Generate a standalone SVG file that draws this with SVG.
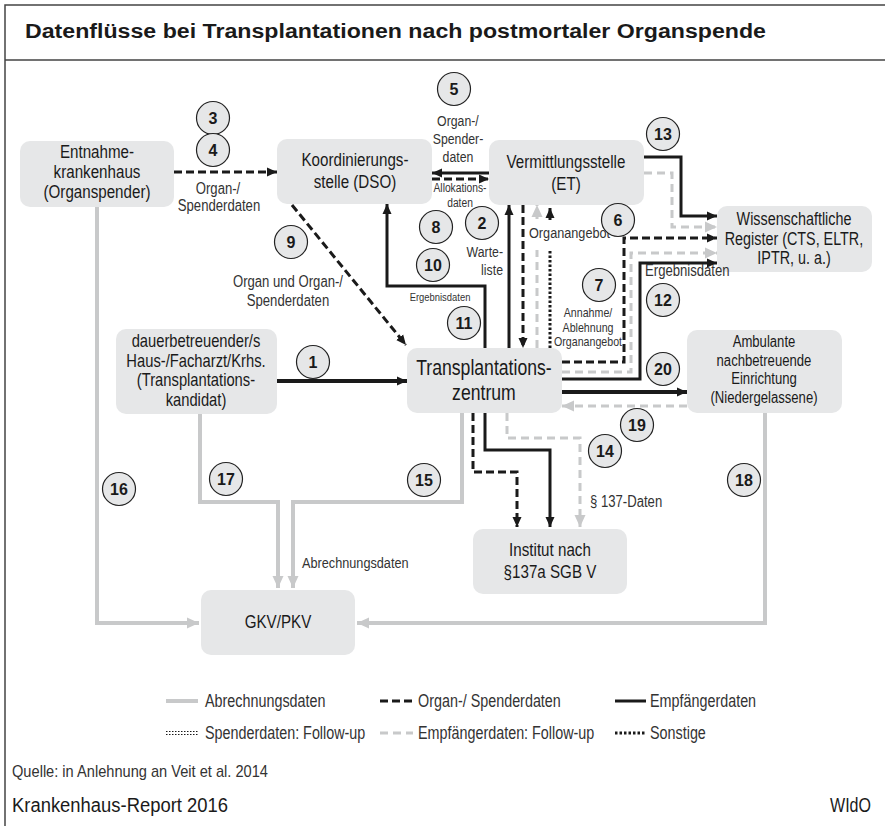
<svg xmlns="http://www.w3.org/2000/svg" width="885" height="826" viewBox="0 0 885 826">
<style>
.bg{fill:#fff}
.node rect{fill:#e6e7e8}
.nt{font-family:"Liberation Sans",sans-serif;font-size:18.5px;fill:#1a1a1a;text-anchor:middle}
.lbl{font-family:"Liberation Sans",sans-serif;font-size:16px;fill:#333}
.mid{text-anchor:middle}
.end{text-anchor:end}
.num circle{fill:#e6e7e8;stroke:#222;stroke-width:1.2}
.num text{font-family:"Liberation Sans",sans-serif;font-weight:bold;font-size:16px;fill:#1a1a1a;text-anchor:middle}
.abr{stroke:#c8c9ca;stroke-width:4;fill:none}
.org{stroke:#1a1a1a;stroke-width:3;stroke-dasharray:8 4;fill:none}
.emp{stroke:#1a1a1a;stroke-width:3;fill:none}
.thick{stroke-width:4}
.empf{stroke:#c8c9ca;stroke-width:3;stroke-dasharray:8 5;fill:none}
.son{stroke:#1a1a1a;stroke-width:3;stroke-dasharray:2.5 2;fill:none}
.spf{stroke:#1a1a1a;stroke-width:1;stroke-dasharray:1.5 1.5;fill:none}
.frame{stroke:#444;stroke-width:1.5;fill:none}
</style>
<defs>
<marker id="ab" markerUnits="userSpaceOnUse" markerWidth="11" markerHeight="10" refX="10" refY="5" orient="auto"><path d="M0,0.5 L10,5 L0,9.5 z" fill="#1a1a1a"/></marker>
<marker id="ag" markerUnits="userSpaceOnUse" markerWidth="13" markerHeight="12" refX="12" refY="6" orient="auto"><path d="M0,0.5 L12,6 L0,11.5 z" fill="#c8c9ca"/></marker>
</defs>
<rect class="bg" x="0" y="0" width="885" height="826"/>
<path class="frame" d="M5,826 V5 H885 M5,60 H885"/>
<text x="25" y="38" font-family="Liberation Sans, sans-serif" font-weight="bold" font-size="20" fill="#1a1a1a" textLength="741" lengthAdjust="spacingAndGlyphs">Datenflüsse bei Transplantationen nach postmortaler Organspende</text>

<g id="connectors">
<path class="org" d="M174,172 H277" marker-end="url(#ab)"/>
<path class="emp" d="M489,173 H432" marker-end="url(#ab)"/>
<path class="org" d="M432,179 H489" marker-end="url(#ab)"/>
<path class="org" d="M292,205 L406,345" marker-end="url(#ab)"/>
<path class="emp" d="M485,348 V286 H387 V204" marker-end="url(#ab)"/>
<path class="emp" d="M509,348 V205" marker-end="url(#ab)"/>
<path class="org" d="M523,205 V348" marker-end="url(#ab)"/>
<path class="empf" d="M537,348 V250"/>
<path class="empf" d="M537,219 V205" stroke-dasharray="none" marker-end="url(#ag)"/>
<path class="son" d="M550,348 V250"/>
<path class="emp" d="M550,220 V208" marker-end="url(#ab)"/>
<path class="org" d="M562,362 H624 V238 H717" marker-end="url(#ab)"/>
<path class="empf" d="M562,372 H631 V253 H717" marker-end="url(#ag)"/>
<path class="emp" d="M562,379 H640 V263 H717" marker-end="url(#ab)"/>
<path class="emp" d="M644,157 H681 V216 H717" marker-end="url(#ab)"/>
<path class="empf" d="M644,173 H672 V227 H717" marker-end="url(#ag)"/>
<path class="emp thick" d="M562,392 H687" marker-end="url(#ab)"/>
<path class="empf" d="M687,406 H562" marker-end="url(#ag)"/>
<path class="emp thick" d="M277,381 H407" marker-end="url(#ab)"/>
<path class="empf" d="M507,413 V438 H580 V527" marker-end="url(#ag)"/>
<path class="org" d="M473,413 V472 H517 V527" marker-end="url(#ab)"/>
<path class="emp" d="M485,413 V450 H550 V527" marker-end="url(#ab)"/>
<path class="abr" d="M462,413 V502 H293 V588" marker-end="url(#ag)"/>
<path class="abr" d="M200,414 V502 H278 V588" marker-end="url(#ag)"/>
<path class="abr" d="M97,207 V623 H199" marker-end="url(#ag)"/>
<path class="abr" d="M765,413 V623 H357" marker-end="url(#ag)"/>
</g>

<g id="n-entnahme" class="node"><rect x="20" y="141" width="154" height="66" rx="10"/>
<g transform="scale(0.82 1)"><text class="nt" x="118.3" y="158">Entnahme-</text><text class="nt" x="118.3" y="178">krankenhaus</text><text class="nt" x="118.3" y="198">(Organspender)</text></g></g>
<g id="n-dso" class="node"><rect x="277" y="139" width="155" height="65" rx="10"/>
<g transform="scale(0.82 1)"><text class="nt" x="432.9" y="166">Koordinierungs-</text><text class="nt" x="432.9" y="188">stelle (DSO)</text></g></g>
<g id="n-et" class="node"><rect x="489" y="140" width="155" height="65" rx="10"/>
<g transform="scale(0.82 1)"><text class="nt" x="690.2" y="168">Vermittlungsstelle</text><text class="nt" x="690.2" y="190">(ET)</text></g></g>
<g id="n-register" class="node"><rect x="717" y="206" width="155" height="66" rx="10"/>
<g transform="scale(0.82 1)"><text class="nt" x="968.3" y="225" style="font-size:17.5px">Wissenschaftliche</text><text class="nt" x="968.3" y="245" style="font-size:17.5px">Register (CTS, ELTR,</text><text class="nt" x="968.3" y="264" style="font-size:17.5px">IPTR, u. a.)</text></g></g>
<g id="n-ambulant" class="node"><rect x="687" y="330" width="155" height="83" rx="10"/>
<g transform="scale(0.82 1)"><text class="nt" x="931.7" y="347" style="font-size:16px">Ambulante</text><text class="nt" x="931.7" y="366" style="font-size:16px">nachbetreuende</text><text class="nt" x="931.7" y="384" style="font-size:16px">Einrichtung</text><text class="nt" x="931.7" y="403" style="font-size:16px">(Niedergelassene)</text></g></g>
<g id="n-dauer" class="node"><rect x="116" y="329" width="161" height="85" rx="10"/>
<g transform="scale(0.82 1)"><text class="nt" x="239" y="347" style="font-size:18px">dauerbetreuender/s</text><text class="nt" x="239" y="367" style="font-size:18px">Haus-/Facharzt/Krhs.</text><text class="nt" x="239" y="386" style="font-size:18px">(Transplantations-</text><text class="nt" x="239" y="406" style="font-size:18px">kandidat)</text></g></g>
<g id="n-tz" class="node"><rect x="407" y="348" width="155" height="65" rx="10"/>
<g transform="scale(0.82 1)"><text class="nt" x="590.2" y="375" style="font-size:21.5px">Transplantations-</text><text class="nt" x="590.2" y="400" style="font-size:21.5px">zentrum</text></g></g>
<g id="n-institut" class="node"><rect x="473" y="529" width="154" height="65" rx="10"/>
<g transform="scale(0.82 1)"><text class="nt" x="670.7" y="556">Institut nach</text><text class="nt" x="670.7" y="578">§137a SGB V</text></g></g>
<g id="n-gkv" class="node"><rect x="201" y="590" width="154" height="65" rx="10"/>
<g transform="scale(0.82 1)"><text class="nt" x="339" y="628">GKV/PKV</text></g></g>

<g id="labels" transform="scale(0.82 1)">
<text class="lbl mid" x="265.9" y="194">Organ-/</text>
<text class="lbl mid" x="267.1" y="211">Spenderdaten</text>
<text class="lbl mid" x="558.5" y="126" style="font-size:15px">Organ-/</text>
<text class="lbl mid" x="558.5" y="144" style="font-size:15px">Spender-</text>
<text class="lbl mid" x="558.5" y="162" style="font-size:15px">daten</text>
<text class="lbl mid" x="561" y="192" style="font-size:12.5px">Allokations-</text>
<text class="lbl mid" x="561" y="207" style="font-size:12.5px">daten</text>
<text class="lbl end" x="613.4" y="257" style="font-size:15px">Warte-</text>
<text class="lbl end" x="613.4" y="275" style="font-size:15px">liste</text>
<text class="lbl" x="645.1" y="238" style="font-size:15.5px">Organangebot</text>
<text class="lbl mid" x="351.2" y="287">Organ und Organ-/</text>
<text class="lbl mid" x="351.2" y="306">Spenderdaten</text>
<text class="lbl mid" x="536.6" y="301" style="font-size:11.5px">Ergebnisdaten</text>
<text class="lbl mid" x="717.1" y="317" style="font-size:13px">Annahme/</text>
<text class="lbl mid" x="717.1" y="332" style="font-size:13px">Ablehnung</text>
<text class="lbl mid" x="717.1" y="346" style="font-size:13px">Organangebot</text>
<text class="lbl" x="786.6" y="276">Ergebnisdaten</text>
<text class="lbl" x="719.5" y="507">§ 137-Daten</text>
<text class="lbl" x="368.3" y="568" style="font-size:15.5px">Abrechnungsdaten</text>
</g>

<g id="numbers" class="num">
<g><circle cx="313" cy="362" r="16.5"/><text x="313" y="367.5">1</text></g>
<g><circle cx="482" cy="223" r="16.5"/><text x="482" y="228.5">2</text></g>
<g><circle cx="213" cy="118" r="16.5"/><text x="213" y="123.5">3</text></g>
<g><circle cx="213" cy="150" r="16.5"/><text x="213" y="155.5">4</text></g>
<g><circle cx="454" cy="89" r="16.5"/><text x="454" y="94.5">5</text></g>
<g><circle cx="618" cy="220" r="16.5"/><text x="618" y="225.5">6</text></g>
<g><circle cx="599" cy="285" r="16.5"/><text x="599" y="290.5">7</text></g>
<g><circle cx="436" cy="227" r="16.5"/><text x="436" y="232.5">8</text></g>
<g><circle cx="291" cy="242" r="16.5"/><text x="291" y="247.5">9</text></g>
<g><circle cx="433" cy="265" r="16.5"/><text x="433" y="270.5">10</text></g>
<g><circle cx="464" cy="323" r="16.5"/><text x="464" y="328.5">11</text></g>
<g><circle cx="663" cy="300" r="16.5"/><text x="663" y="305.5">12</text></g>
<g><circle cx="663" cy="134" r="16.5"/><text x="663" y="139.5">13</text></g>
<g><circle cx="605" cy="451" r="16.5"/><text x="605" y="456.5">14</text></g>
<g><circle cx="424" cy="480" r="16.5"/><text x="424" y="485.5">15</text></g>
<g><circle cx="119" cy="489" r="16.5"/><text x="119" y="494.5">16</text></g>
<g><circle cx="226" cy="479" r="16.5"/><text x="226" y="484.5">17</text></g>
<g><circle cx="744" cy="480" r="16.5"/><text x="744" y="485.5">18</text></g>
<g><circle cx="637" cy="425" r="16.5"/><text x="637" y="430.5">19</text></g>
<g><circle cx="663" cy="369" r="16.5"/><text x="663" y="374.5">20</text></g>
</g>

<g id="legend">
<path class="abr" d="M166,701 H198"/>
<path class="org" d="M380,701 H413"/>
<path class="emp" d="M615,701 H646"/>
<path class="spf" d="M166,731.5 H198 M166,734.5 H198"/>
<path class="empf" d="M380,733 H413"/>
<path class="son" d="M615,733 H646"/>
<g transform="scale(0.82 1)">
<text class="lbl" x="250" y="707" style="font-size:17.5px">Abrechnungsdaten</text>
<text class="lbl" x="509.8" y="707" style="font-size:17.5px">Organ-/ Spenderdaten</text>
<text class="lbl" x="792.7" y="707" style="font-size:17.5px">Empfängerdaten</text>
<text class="lbl" x="250" y="739" style="font-size:17.5px">Spenderdaten: Follow-up</text>
<text class="lbl" x="509.8" y="739" style="font-size:17.5px">Empfängerdaten: Follow-up</text>
<text class="lbl" x="792.7" y="739" style="font-size:17.5px">Sonstige</text>
</g>
</g>

<g id="footer">
<text class="lbl" x="12" y="777" style="font-size:17px" textLength="256" lengthAdjust="spacingAndGlyphs">Quelle: in Anlehnung an Veit et al. 2014</text>
<text class="lbl" x="12" y="812" style="font-size:20px;fill:#1a1a1a" textLength="216" lengthAdjust="spacingAndGlyphs">Krankenhaus-Report 2016</text>
<text class="lbl" x="830" y="812" style="font-size:20px;fill:#1a1a1a" textLength="41" lengthAdjust="spacingAndGlyphs">WIdO</text>
</g>
</svg>
